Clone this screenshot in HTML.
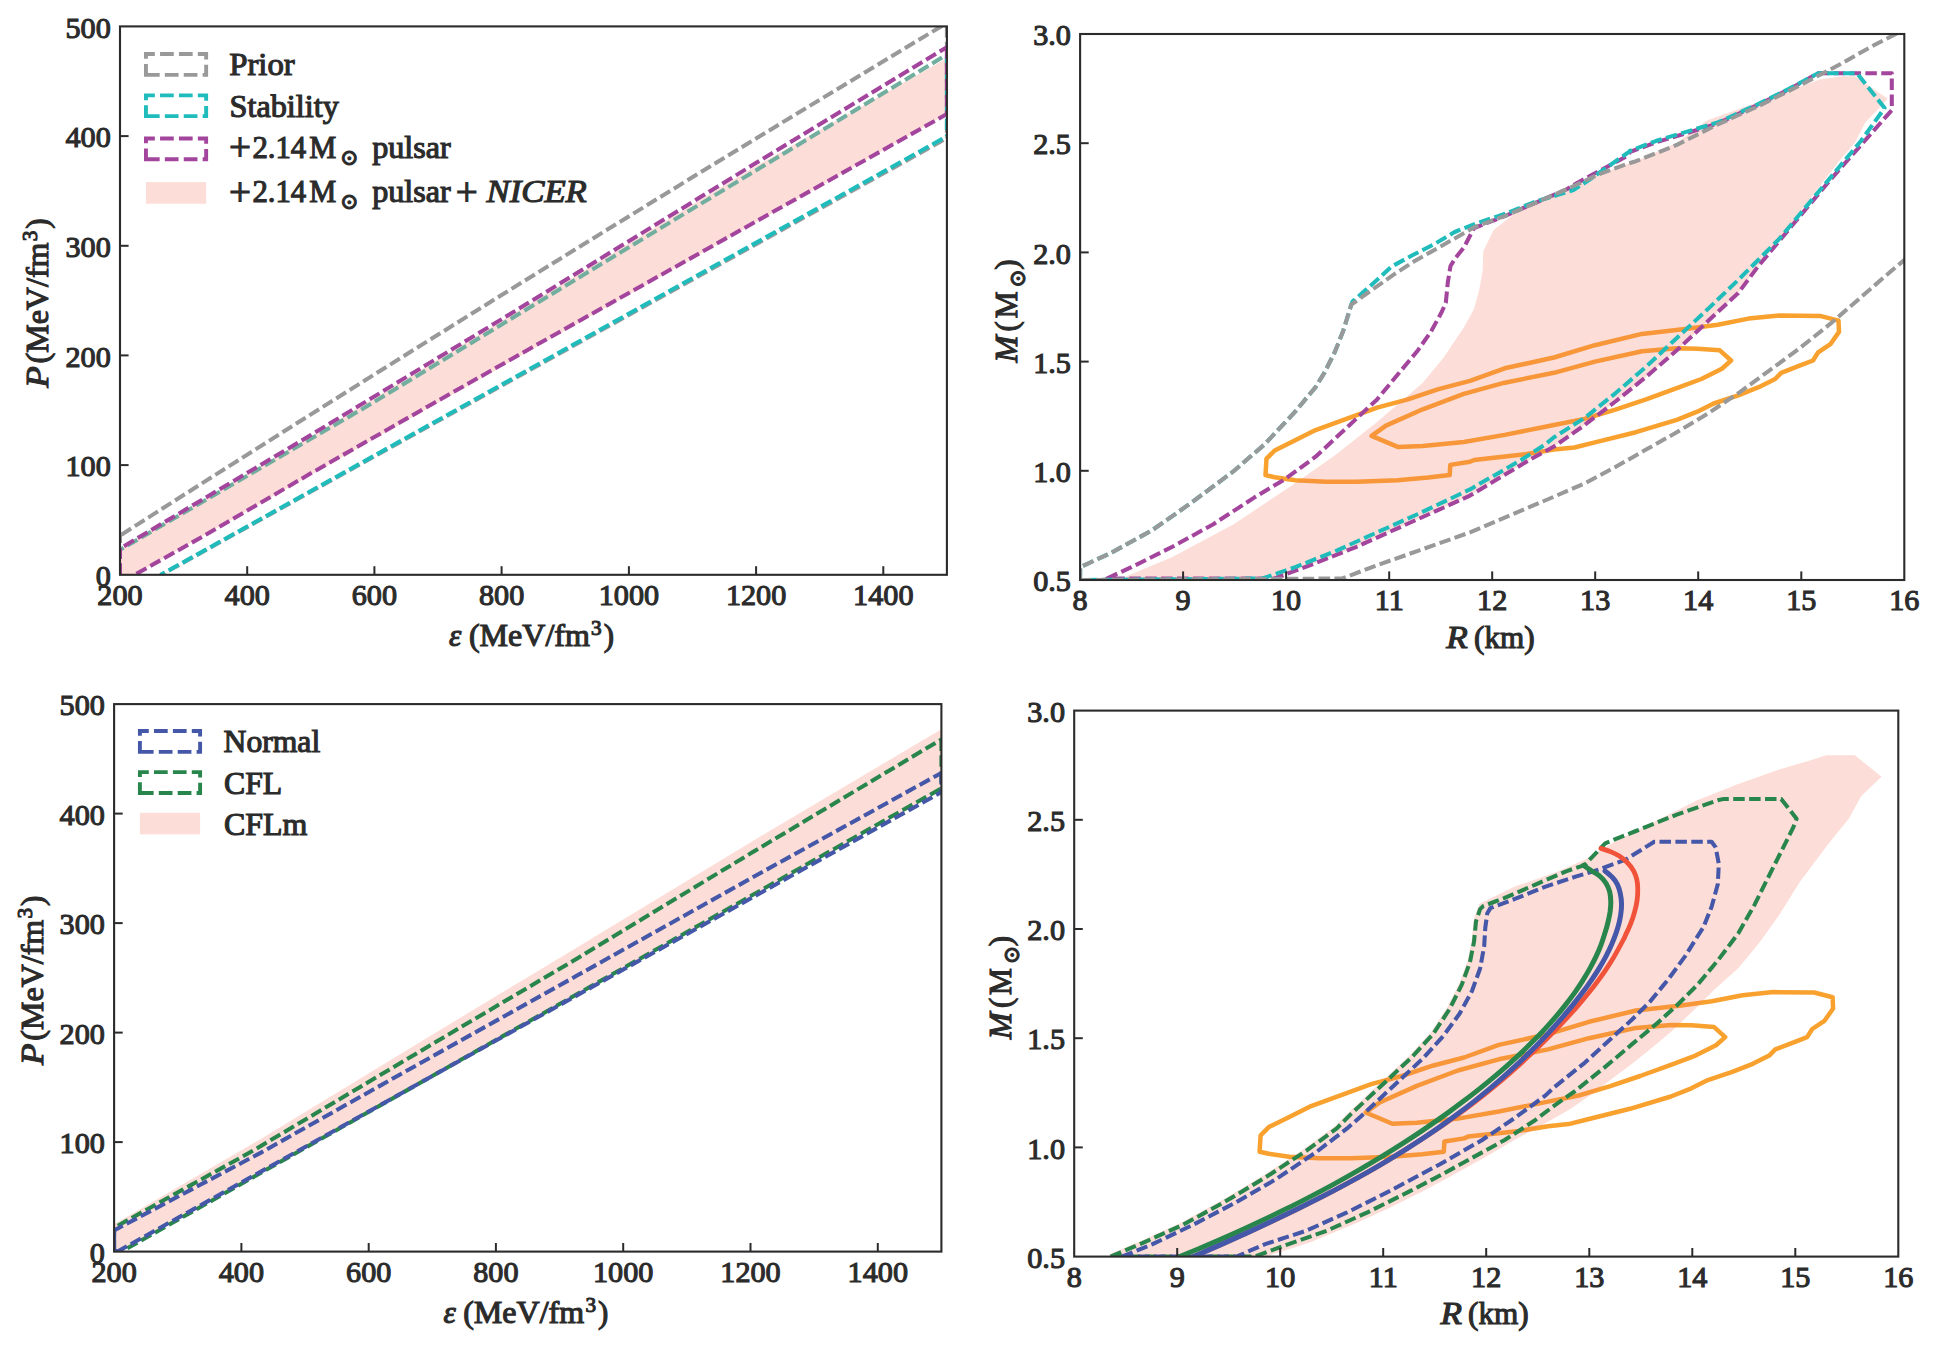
<!DOCTYPE html>
<html><head><meta charset="utf-8"><title>Figure</title>
<style>
html,body{margin:0;padding:0;background:#fff;}
svg{display:block;}
text{font-family:"Liberation Serif","DejaVu Serif",serif;fill:#2b2b2b;stroke:#2b2b2b;stroke-width:1.1px;}
</style></head><body>
<svg width="1954" height="1368" viewBox="0 0 1954 1368">
<rect width="1954" height="1368" fill="#ffffff"/>
<clipPath id="cTL"><rect x="120.0" y="26.4" width="826.9" height="548.4"/></clipPath>
<g clip-path="url(#cTL)">
<path d="M120.0 574.8 L120.0 549.6 L310.9 436.5 L511.4 315.0 L753.4 167.5 L946.9 58.2 L946.9 114.1 L134.6 574.8 Z" fill="#fdddd7" stroke="none"/>
<path d="M120.0 535.6 L200.0 484.6 L300.0 421.2 L400.0 358.4 L500.0 296.0 L600.0 234.1 L700.0 172.6 L800.0 111.7 L900.0 51.2 L950.0 21.1" fill="none" stroke="#999999" stroke-width="4.05" stroke-dasharray="11.5 4.4" stroke-dashoffset="14.21"/>
<path d="M946.9 25.9 L946.9 138.1" fill="none" stroke="#999999" stroke-width="4.05" stroke-dasharray="11.5 4.4" stroke-dashoffset="0.00"/>
<path d="M160.1 575.5 L946.9 138.1" fill="none" stroke="#999999" stroke-width="4.05" stroke-dasharray="11.5 4.4" stroke-dashoffset="5.79"/>
<path d="M120.0 549.8 L368.1 405.6 L515.5 316.1 L946.9 54.6" fill="none" stroke="#72ae9f" stroke-width="4.05" stroke-dasharray="11.5 4.4" stroke-dashoffset="7.29"/>
<path d="M946.9 54.9 L946.9 136.6" fill="none" stroke="#20bcbc" stroke-width="4.05" stroke-dasharray="11.5 4.4" stroke-dashoffset="0.00"/>
<path d="M160.7 574.8 L946.9 136.3" fill="none" stroke="#20bcbc" stroke-width="4.05" stroke-dasharray="11.5 4.4" stroke-dashoffset="6.87"/>
<path d="M120.0 548.6 L310.9 435.0 L511.4 313.3 L753.4 164.6 L946.9 47.2" fill="none" stroke="#a3459d" stroke-width="4.05" stroke-dasharray="11.5 4.4" stroke-dashoffset="11.26"/>
<path d="M946.9 47.2 L946.9 114.1" fill="none" stroke="#a3459d" stroke-width="4.05" stroke-dasharray="11.5 4.4" stroke-dashoffset="0.00"/>
<path d="M134.6 574.8 L201.9 537.0 L310.4 473.6 L433.6 403.2 L516.5 356.2 L946.9 114.1" fill="none" stroke="#a3459d" stroke-width="4.05" stroke-dasharray="11.5 4.4" stroke-dashoffset="13.82"/>
<path d="M120.0 574.8 L120.0 534.8" fill="none" stroke="#999999" stroke-width="4.05" stroke-dasharray="11.5 4.4" stroke-dashoffset="0.00"/>
<path d="M120.0 574.8 L120.0 547.9" fill="none" stroke="#a3459d" stroke-width="4.05" stroke-dasharray="11.5 4.4" stroke-dashoffset="0.00"/>
</g>
<text x="120.0" y="604.8" font-size="30.2" text-anchor="middle" >200</text>
<line x1="247.2" y1="574.8" x2="247.2" y2="566.2" stroke="#2b2b2b" stroke-width="2.0"/>
<text x="247.2" y="604.8" font-size="30.2" text-anchor="middle" >400</text>
<line x1="374.4" y1="574.8" x2="374.4" y2="566.2" stroke="#2b2b2b" stroke-width="2.0"/>
<text x="374.4" y="604.8" font-size="30.2" text-anchor="middle" >600</text>
<line x1="501.6" y1="574.8" x2="501.6" y2="566.2" stroke="#2b2b2b" stroke-width="2.0"/>
<text x="501.6" y="604.8" font-size="30.2" text-anchor="middle" >800</text>
<line x1="628.9" y1="574.8" x2="628.9" y2="566.2" stroke="#2b2b2b" stroke-width="2.0"/>
<text x="628.9" y="604.8" font-size="30.2" text-anchor="middle" >1000</text>
<line x1="756.1" y1="574.8" x2="756.1" y2="566.2" stroke="#2b2b2b" stroke-width="2.0"/>
<text x="756.1" y="604.8" font-size="30.2" text-anchor="middle" >1200</text>
<line x1="883.3" y1="574.8" x2="883.3" y2="566.2" stroke="#2b2b2b" stroke-width="2.0"/>
<text x="883.3" y="604.8" font-size="30.2" text-anchor="middle" >1400</text>
<text x="110.8" y="586.0" font-size="30.2" text-anchor="end" >0</text>
<line x1="120.0" y1="465.1" x2="128.6" y2="465.1" stroke="#2b2b2b" stroke-width="2.0"/>
<text x="110.8" y="476.3" font-size="30.2" text-anchor="end" >100</text>
<line x1="120.0" y1="355.4" x2="128.6" y2="355.4" stroke="#2b2b2b" stroke-width="2.0"/>
<text x="110.8" y="366.6" font-size="30.2" text-anchor="end" >200</text>
<line x1="120.0" y1="245.8" x2="128.6" y2="245.8" stroke="#2b2b2b" stroke-width="2.0"/>
<text x="110.8" y="257.0" font-size="30.2" text-anchor="end" >300</text>
<line x1="120.0" y1="136.1" x2="128.6" y2="136.1" stroke="#2b2b2b" stroke-width="2.0"/>
<text x="110.8" y="147.3" font-size="30.2" text-anchor="end" >400</text>
<text x="110.8" y="37.6" font-size="30.2" text-anchor="end" >500</text>
<rect x="120.0" y="26.4" width="826.9" height="548.4" fill="none" stroke="#2b2b2b" stroke-width="2.1"/>
<clipPath id="cBL"><rect x="114.1" y="704.1" width="827.3" height="547.5"/></clipPath>
<g clip-path="url(#cBL)">
<path d="M114.1 1251.6 L114.1 1224.2 L260.0 1139.5 L440.0 1030.0 L560.0 957.7 L754.5 840.0 L941.4 729.2 L941.4 791.0 L117.5 1251.6 Z" fill="#fdddd7" stroke="none"/>
<path d="M114.1 1227.7 L252.8 1150.8 L428.3 1046.4 L578.4 957.7 L752.4 852.3 L941.4 739.4" fill="none" stroke="#28864c" stroke-width="4.05" stroke-dasharray="11.5 4.4" stroke-dashoffset="11.70"/>
<path d="M941.4 739.4 L941.4 788.3" fill="none" stroke="#28864c" stroke-width="4.05" stroke-dasharray="11.5 4.4" stroke-dashoffset="0.00"/>
<path d="M121.5 1251.6 L941.4 788.3" fill="none" stroke="#28864c" stroke-width="4.05" stroke-dasharray="11.5 4.4" stroke-dashoffset="9.24"/>
<path d="M114.1 1251.6 L114.1 1227.7" fill="none" stroke="#28864c" stroke-width="4.05" stroke-dasharray="11.5 4.4" stroke-dashoffset="0.00"/>
<path d="M114.1 1230.4 L261.0 1152.6 L427.3 1059.2 L577.9 975.1 L755.5 875.8 L941.4 772.9" fill="none" stroke="#4457a8" stroke-width="4.05" stroke-dasharray="11.5 4.4" stroke-dashoffset="1.66"/>
<path d="M941.4 772.9 L941.4 792.1" fill="none" stroke="#4457a8" stroke-width="4.05" stroke-dasharray="11.5 4.4" stroke-dashoffset="0.00"/>
<path d="M117.5 1251.6 L941.4 792.1" fill="none" stroke="#4457a8" stroke-width="4.05" stroke-dasharray="11.5 4.4" stroke-dashoffset="0.70"/>
<path d="M114.1 1251.6 L114.1 1230.4" fill="none" stroke="#4457a8" stroke-width="4.05" stroke-dasharray="40.0 0.0" stroke-dashoffset="0.00"/>
<path d="M114.1 1251.0 L122.0 1251.0" fill="none" stroke="#4457a8" stroke-width="4.05" stroke-dasharray="40.0 0.0" stroke-dashoffset="0.00"/>
</g>
<text x="114.1" y="1281.6" font-size="30.2" text-anchor="middle" >200</text>
<line x1="241.4" y1="1251.6" x2="241.4" y2="1243.0" stroke="#2b2b2b" stroke-width="2.0"/>
<text x="241.4" y="1281.6" font-size="30.2" text-anchor="middle" >400</text>
<line x1="368.7" y1="1251.6" x2="368.7" y2="1243.0" stroke="#2b2b2b" stroke-width="2.0"/>
<text x="368.7" y="1281.6" font-size="30.2" text-anchor="middle" >600</text>
<line x1="495.9" y1="1251.6" x2="495.9" y2="1243.0" stroke="#2b2b2b" stroke-width="2.0"/>
<text x="495.9" y="1281.6" font-size="30.2" text-anchor="middle" >800</text>
<line x1="623.2" y1="1251.6" x2="623.2" y2="1243.0" stroke="#2b2b2b" stroke-width="2.0"/>
<text x="623.2" y="1281.6" font-size="30.2" text-anchor="middle" >1000</text>
<line x1="750.5" y1="1251.6" x2="750.5" y2="1243.0" stroke="#2b2b2b" stroke-width="2.0"/>
<text x="750.5" y="1281.6" font-size="30.2" text-anchor="middle" >1200</text>
<line x1="877.8" y1="1251.6" x2="877.8" y2="1243.0" stroke="#2b2b2b" stroke-width="2.0"/>
<text x="877.8" y="1281.6" font-size="30.2" text-anchor="middle" >1400</text>
<text x="104.9" y="1262.8" font-size="30.2" text-anchor="end" >0</text>
<line x1="114.1" y1="1142.1" x2="122.7" y2="1142.1" stroke="#2b2b2b" stroke-width="2.0"/>
<text x="104.9" y="1153.3" font-size="30.2" text-anchor="end" >100</text>
<line x1="114.1" y1="1032.6" x2="122.7" y2="1032.6" stroke="#2b2b2b" stroke-width="2.0"/>
<text x="104.9" y="1043.8" font-size="30.2" text-anchor="end" >200</text>
<line x1="114.1" y1="923.1" x2="122.7" y2="923.1" stroke="#2b2b2b" stroke-width="2.0"/>
<text x="104.9" y="934.3" font-size="30.2" text-anchor="end" >300</text>
<line x1="114.1" y1="813.6" x2="122.7" y2="813.6" stroke="#2b2b2b" stroke-width="2.0"/>
<text x="104.9" y="824.8" font-size="30.2" text-anchor="end" >400</text>
<text x="104.9" y="715.3" font-size="30.2" text-anchor="end" >500</text>
<rect x="114.1" y="704.1" width="827.3" height="547.5" fill="none" stroke="#2b2b2b" stroke-width="2.1"/>
<clipPath id="cTR"><rect x="1080.1" y="34.0" width="824.2" height="546.0"/></clipPath>
<g clip-path="url(#cTR)">
<path d="M1265.5 475.1 L1266.5 458.7 L1274.7 450.5 L1295.2 440.3 L1315.6 430.1 L1346.4 418.8 L1377.1 407.6 L1407.8 399.4 L1438.5 389.1 L1470.0 380.9 L1504.7 368.3 L1554.0 357.5 L1594.9 345.2 L1642.0 333.9 L1687.1 328.8 L1717.8 324.7 L1748.5 318.6 L1779.2 315.5 L1820.1 315.9 L1838.5 320.6 L1839.0 331.9 L1830.4 344.2 L1818.1 352.4 L1813.0 360.5 L1799.6 365.7 L1781.2 372.8 L1775.1 379.0 L1758.7 387.2 L1738.2 395.3 L1713.7 403.5 L1697.3 411.7 L1676.8 419.9 L1635.9 432.2 L1594.9 442.4 L1574.5 447.5 L1554.0 449.6 L1525.2 454.3 L1474.0 460.0 L1470.0 461.8 L1450.3 464.9 L1449.7 475.1 L1428.2 477.6 L1397.5 480.2 L1356.6 481.7 L1325.9 481.7 L1295.2 480.2 L1274.7 477.2 Z" fill="none" stroke="#f9a12e" stroke-width="4.50" stroke-linejoin="round" stroke-linecap="round" />
<path d="M1371.6 435.9 L1386.0 425.6 L1422.8 409.3 L1463.8 393.9 L1504.7 382.7 L1554.0 372.8 L1594.9 361.6 L1642.0 351.3 L1676.8 348.3 L1697.3 348.7 L1719.8 350.3 L1731.1 360.5 L1721.9 368.7 L1701.4 379.0 L1676.8 388.2 L1646.1 399.4 L1615.4 409.7 L1584.7 418.9 L1554.0 425.0 L1504.7 434.9 L1463.8 442.0 L1422.8 446.1 L1398.3 447.1 Z" fill="none" stroke="#f9a12e" stroke-width="4.50" stroke-linejoin="round" stroke-linecap="round" />
<path d="M1121.2 578.5 L1172.4 557.0 L1233.8 524.2 L1295.2 483.3 L1336.1 454.6 L1377.1 421.9 L1422.8 382.7 L1443.3 358.1 L1463.8 327.4 L1474.0 309.0 L1479.1 290.5 L1482.8 270.1 L1483.2 251.6 L1493.6 229.9 L1516.1 212.5 L1536.6 202.3 L1567.3 189.0 L1598.0 174.6 L1628.7 163.4 L1635.9 161.2 L1676.8 142.8 L1707.5 120.3 L1758.7 101.9 L1820.1 79.4 L1840.6 76.3 L1854.9 76.3 L1887.7 98.8 L1873.3 114.2 L1865.2 122.4 L1854.9 142.8 L1840.6 159.2 L1820.1 185.8 L1799.6 212.4 L1779.2 241.1 L1758.7 265.6 L1738.2 293.0 L1707.5 321.6 L1676.8 350.3 L1646.1 376.9 L1615.4 401.5 L1584.7 425.0 L1554.0 446.5 L1529.3 460.0 L1470.0 495.6 L1438.5 509.9 L1397.5 528.3 L1356.6 546.8 L1315.6 563.1 L1274.7 578.5 Z" fill="rgba(247,119,95,0.25)" stroke="none"/>
<path d="M1106.8 578.5 L1131.4 567.2 L1172.4 546.8 L1213.3 524.2 L1254.2 497.6 L1284.9 479.2 L1315.6 456.7 L1346.4 428.0 L1377.1 399.4 L1397.5 374.8 L1418.0 350.2 L1431.0 331.5 L1441.2 313.1 L1445.8 302.8 L1447.8 282.4 L1450.5 266.0 L1455.6 257.8 L1463.8 247.6 L1474.0 228.1 L1505.9 215.6 L1536.6 202.3 L1567.3 189.0 L1577.5 182.8 L1598.0 171.6 L1628.7 155.2 L1629.7 152.0 L1656.4 142.2 L1687.1 133.0 L1717.8 123.4 L1758.7 104.5 L1789.4 89.2 L1818.1 73.2 L1891.8 73.2 L1891.8 110.1 L1861.1 144.9 L1830.4 179.7 L1799.6 216.5 L1779.2 241.1 L1758.7 265.6 L1738.2 293.0 L1707.5 321.6 L1676.8 350.3 L1646.1 376.9 L1615.4 401.5 L1584.7 425.0 L1554.0 446.5 L1529.3 460.0 L1470.0 495.6 L1438.5 509.9 L1397.5 528.3 L1356.6 546.8 L1315.6 563.1 L1274.7 578.5 Z" fill="none" stroke="#a3459d" stroke-width="4.05" stroke-dasharray="11.5 4.4" stroke-linejoin="round" />
<path d="M1080.1 580.0 L1080.2 567.2 L1110.9 552.9 L1151.9 530.4 L1192.8 501.7 L1233.8 471.0 L1264.5 444.4 L1295.2 411.6 L1315.6 387.1 L1324.6 372.4 L1334.8 352.0 L1343.0 331.5 L1348.1 315.1 L1351.3 304.6 L1352.4 301.6 L1376.9 280.1 L1391.2 266.8 L1413.8 254.5 L1434.2 244.2 L1454.7 232.0 L1475.2 223.8 L1505.9 213.5 L1536.6 201.2 L1557.1 195.1 L1573.4 190.0 L1587.8 180.8 L1608.2 166.4 L1628.7 152.1 L1629.7 151.0 L1656.4 140.8 L1687.1 131.6 L1717.8 122.4 L1758.7 103.9 L1789.4 88.6 L1818.1 73.2 L1857.0 73.2 L1884.6 108.0 L1861.1 140.8 L1830.4 177.6 L1799.6 214.5 L1779.2 239.0 L1758.7 259.5 L1738.2 280.0 L1707.5 309.4 L1676.8 338.0 L1646.1 366.7 L1615.4 393.3 L1584.7 417.9 L1554.0 437.3 L1545.6 444.1 L1521.1 460.0 L1470.0 489.4 L1418.0 514.0 L1377.1 532.4 L1336.1 550.8 L1295.2 567.2 L1262.4 578.5 Z" fill="none" stroke="#20bcbc" stroke-width="4.05" stroke-dasharray="11.5 4.4" stroke-linejoin="round" />
<path d="M1080.1 580.0 L1080.2 567.2 L1110.9 552.9 L1151.9 530.4 L1192.8 501.7 L1233.8 471.0 L1264.5 444.4 L1295.2 411.6 L1315.6 387.1 L1324.6 372.4 L1334.8 352.0 L1343.0 331.5 L1348.1 315.1 L1351.3 304.6 L1372.8 289.3 L1393.3 274.9 L1413.8 261.6 L1444.5 244.2 L1475.2 226.8 L1505.9 215.6 L1536.6 202.3 L1567.3 189.0 L1598.0 174.6 L1628.7 163.4 L1635.9 161.2 L1676.8 144.9 L1717.8 124.4 L1758.7 106.0 L1799.6 85.5 L1840.6 64.0 L1871.3 46.6 L1900.0 31.9 L1907.3 32.0" fill="none" stroke="#999999" stroke-width="4.05" stroke-dasharray="11.5 4.4" stroke-linejoin="round" />
<path d="M1080.1 580.0 L1342.3 578.5 L1377.1 565.2 L1418.0 550.8 L1470.0 532.4 L1554.0 496.7 L1584.7 483.4 L1615.4 467.0 L1646.1 449.6 L1676.8 432.2 L1707.5 413.8 L1738.2 393.3 L1768.9 370.8 L1799.6 348.3 L1830.4 323.7 L1861.1 297.1 L1891.8 270.5 L1906.1 258.6" fill="none" stroke="#999999" stroke-width="4.05" stroke-dasharray="11.5 4.4" stroke-linejoin="round" />
</g>
<text x="1080.1" y="610.0" font-size="30.2" text-anchor="middle" >8</text>
<line x1="1183.1" y1="580.0" x2="1183.1" y2="571.4" stroke="#2b2b2b" stroke-width="2.0"/>
<text x="1183.1" y="610.0" font-size="30.2" text-anchor="middle" >9</text>
<line x1="1286.1" y1="580.0" x2="1286.1" y2="571.4" stroke="#2b2b2b" stroke-width="2.0"/>
<text x="1286.1" y="610.0" font-size="30.2" text-anchor="middle" >10</text>
<line x1="1389.2" y1="580.0" x2="1389.2" y2="571.4" stroke="#2b2b2b" stroke-width="2.0"/>
<text x="1389.2" y="610.0" font-size="30.2" text-anchor="middle" >11</text>
<line x1="1492.2" y1="580.0" x2="1492.2" y2="571.4" stroke="#2b2b2b" stroke-width="2.0"/>
<text x="1492.2" y="610.0" font-size="30.2" text-anchor="middle" >12</text>
<line x1="1595.2" y1="580.0" x2="1595.2" y2="571.4" stroke="#2b2b2b" stroke-width="2.0"/>
<text x="1595.2" y="610.0" font-size="30.2" text-anchor="middle" >13</text>
<line x1="1698.2" y1="580.0" x2="1698.2" y2="571.4" stroke="#2b2b2b" stroke-width="2.0"/>
<text x="1698.2" y="610.0" font-size="30.2" text-anchor="middle" >14</text>
<line x1="1801.3" y1="580.0" x2="1801.3" y2="571.4" stroke="#2b2b2b" stroke-width="2.0"/>
<text x="1801.3" y="610.0" font-size="30.2" text-anchor="middle" >15</text>
<text x="1904.3" y="610.0" font-size="30.2" text-anchor="middle" >16</text>
<text x="1070.9" y="591.2" font-size="30.2" text-anchor="end" >0.5</text>
<line x1="1080.1" y1="470.8" x2="1088.7" y2="470.8" stroke="#2b2b2b" stroke-width="2.0"/>
<text x="1070.9" y="482.0" font-size="30.2" text-anchor="end" >1.0</text>
<line x1="1080.1" y1="361.6" x2="1088.7" y2="361.6" stroke="#2b2b2b" stroke-width="2.0"/>
<text x="1070.9" y="372.8" font-size="30.2" text-anchor="end" >1.5</text>
<line x1="1080.1" y1="252.4" x2="1088.7" y2="252.4" stroke="#2b2b2b" stroke-width="2.0"/>
<text x="1070.9" y="263.6" font-size="30.2" text-anchor="end" >2.0</text>
<line x1="1080.1" y1="143.2" x2="1088.7" y2="143.2" stroke="#2b2b2b" stroke-width="2.0"/>
<text x="1070.9" y="154.4" font-size="30.2" text-anchor="end" >2.5</text>
<text x="1070.9" y="45.2" font-size="30.2" text-anchor="end" >3.0</text>
<rect x="1080.1" y="34.0" width="824.2" height="546.0" fill="none" stroke="#2b2b2b" stroke-width="2.1"/>
<clipPath id="cBR"><rect x="1074.2" y="710.6" width="824.1" height="546.0"/></clipPath>
<g clip-path="url(#cBR)">
<path d="M1259.6 1151.7 L1260.6 1135.3 L1268.8 1127.1 L1289.3 1116.9 L1309.7 1106.7 L1340.5 1095.4 L1371.2 1084.2 L1401.9 1076.0 L1432.6 1065.7 L1464.1 1057.5 L1498.8 1044.9 L1548.1 1034.1 L1589.0 1021.8 L1636.1 1010.5 L1681.2 1005.4 L1711.9 1001.3 L1742.6 995.2 L1773.3 992.1 L1814.2 992.5 L1832.6 997.2 L1833.1 1008.5 L1824.5 1020.8 L1812.2 1029.0 L1807.1 1037.1 L1793.7 1042.3 L1775.3 1049.4 L1769.2 1055.6 L1752.8 1063.8 L1732.3 1071.9 L1707.8 1080.1 L1691.4 1088.3 L1670.9 1096.5 L1630.0 1108.8 L1589.0 1119.0 L1568.6 1124.1 L1548.1 1126.2 L1519.3 1130.9 L1468.1 1136.6 L1464.1 1138.4 L1444.4 1141.5 L1443.8 1151.7 L1422.3 1154.2 L1391.6 1156.8 L1350.7 1158.3 L1320.0 1158.3 L1289.3 1156.8 L1268.8 1153.8 Z" fill="none" stroke="#f9a12e" stroke-width="4.50" stroke-linejoin="round" stroke-linecap="round" />
<path d="M1365.7 1112.5 L1380.1 1102.2 L1416.9 1085.9 L1457.9 1070.5 L1498.8 1059.3 L1548.1 1049.4 L1589.0 1038.2 L1636.1 1027.9 L1670.9 1024.9 L1691.4 1025.3 L1713.9 1026.9 L1725.2 1037.1 L1716.0 1045.3 L1695.5 1055.6 L1670.9 1064.8 L1640.2 1076.0 L1609.5 1086.3 L1578.8 1095.5 L1548.1 1101.6 L1498.8 1111.5 L1457.9 1118.6 L1416.9 1122.7 L1392.4 1123.7 Z" fill="none" stroke="#f9a12e" stroke-width="4.50" stroke-linejoin="round" stroke-linecap="round" />
<path d="M1108.4 1254.8 L1140.2 1241.3 L1181.1 1222.8 L1222.0 1200.3 L1263.0 1175.8 L1303.9 1149.1 L1334.6 1126.6 L1349.0 1112.0 L1379.7 1083.4 L1410.4 1054.7 L1430.9 1032.2 L1447.2 1007.6 L1459.5 983.1 L1467.7 960.6 L1471.8 940.1 L1473.8 919.6 L1477.9 907.3 L1480.0 903.6 L1514.9 886.6 L1555.9 872.3 L1584.7 859.7 L1615.4 841.2 L1656.4 820.8 L1697.3 800.3 L1738.2 783.9 L1779.2 769.6 L1809.9 760.4 L1826.3 755.3 L1854.9 755.3 L1881.5 776.8 L1861.1 796.2 L1848.8 818.7 L1830.4 841.2 L1799.6 882.2 L1779.2 914.9 L1758.7 943.6 L1738.2 968.2 L1714.0 990.0 L1693.5 1010.5 L1673.1 1029.9 L1652.6 1047.3 L1632.1 1063.7 L1611.6 1079.0 L1591.2 1094.4 L1570.7 1108.7 L1552.0 1119.5 L1513.5 1140.5 L1482.8 1158.5 L1452.1 1175.5 L1421.4 1191.9 L1390.7 1207.2 L1360.0 1221.6 L1310.0 1242.4 L1265.3 1256.7 Z" fill="rgba(247,119,95,0.25)" stroke="none"/>
<path d="M1110.6 1256.6 L1142.4 1243.1 L1183.3 1224.6 L1224.2 1202.1 L1265.2 1177.6 L1306.1 1150.9 L1336.8 1128.4 L1351.2 1113.8 L1381.9 1085.2 L1412.6 1056.5 L1433.1 1034.0 L1449.4 1009.4 L1461.7 984.9 L1469.9 962.4 L1474.0 941.9 L1476.0 921.4 L1480.1 909.1 L1483.2 906.1 L1504.7 897.9 L1535.4 884.6 L1566.1 871.3 L1584.5 865.1 L1605.2 843.3 L1635.9 831.0 L1676.8 814.6 L1717.8 800.3 L1723.9 798.9 L1781.2 798.9 L1796.6 818.7 L1793.5 826.9 L1783.3 847.4 L1768.9 876.0 L1754.6 904.7 L1738.2 933.4 L1717.8 960.5 L1697.3 985.0 L1676.8 1005.5 L1656.4 1023.9 L1631.8 1044.4 L1605.2 1066.9 L1574.5 1091.5 L1554.0 1105.8 L1535.4 1120.0 L1504.7 1140.0 L1440.0 1175.5 L1408.5 1191.9 L1367.5 1212.4 L1326.6 1230.8 L1285.6 1245.1 L1254.9 1256.6 Z" fill="none" stroke="#28864c" stroke-width="4.05" stroke-dasharray="11.5 4.4" stroke-linejoin="round" />
<path d="M1121.9 1256.6 L1152.6 1244.1 L1193.5 1224.6 L1234.5 1203.1 L1275.4 1179.6 L1316.4 1152.0 L1347.1 1128.4 L1361.4 1115.9 L1392.1 1087.2 L1422.8 1058.6 L1443.3 1036.0 L1459.7 1013.5 L1472.0 991.0 L1480.1 968.5 L1484.2 946.0 L1485.3 927.6 L1487.3 913.2 L1490.4 908.1 L1514.9 898.9 L1545.6 886.6 L1576.4 876.4 L1596.8 870.2 L1625.6 859.7 L1654.3 841.7 L1711.6 841.7 L1715.7 847.4 L1718.8 863.8 L1717.8 884.2 L1711.6 906.8 L1703.4 927.2 L1695.2 940.0 L1685.0 956.4 L1668.6 978.9 L1650.2 1001.4 L1631.8 1019.8 L1609.3 1040.3 L1584.7 1062.8 L1554.0 1087.4 L1545.6 1095.4 L1514.9 1117.9 L1482.2 1140.0 L1440.0 1164.2 L1418.7 1175.5 L1388.0 1191.9 L1347.1 1212.4 L1306.1 1230.8 L1265.2 1244.1 L1236.5 1256.6 Z" fill="none" stroke="#4457a8" stroke-width="4.05" stroke-dasharray="11.5 4.4" stroke-linejoin="round" />
<path d="M1193.6 1256.6 C1198.2 1254.6 1212.0 1248.6 1221.0 1244.6 C1230.0 1240.6 1238.8 1236.6 1247.6 1232.6 C1256.3 1228.6 1265.0 1224.6 1273.5 1220.6 C1282.0 1216.6 1290.3 1212.6 1298.4 1208.6 C1306.5 1204.6 1314.5 1200.6 1322.3 1196.6 C1330.1 1192.6 1337.7 1188.6 1345.1 1184.6 C1352.5 1180.6 1359.8 1176.6 1366.9 1172.6 C1374.0 1168.6 1380.8 1164.6 1387.5 1160.6 C1394.2 1156.6 1400.6 1152.6 1407.0 1148.6 C1413.4 1144.6 1419.8 1140.6 1425.9 1136.6 C1432.0 1132.6 1438.0 1128.6 1443.8 1124.6 C1449.5 1120.6 1455.1 1116.6 1460.6 1112.6 C1466.1 1108.6 1471.4 1104.6 1476.6 1100.6 C1481.7 1096.6 1486.7 1092.6 1491.6 1088.6 C1496.5 1084.6 1501.3 1080.6 1505.9 1076.6 C1510.5 1072.6 1515.0 1068.6 1519.5 1064.6 C1523.9 1060.6 1528.2 1056.6 1532.5 1052.6 C1536.8 1048.6 1540.9 1044.6 1545.0 1040.6 C1549.0 1036.6 1552.9 1032.6 1556.8 1028.6 C1560.7 1024.6 1564.4 1020.6 1568.1 1016.6 C1571.8 1012.6 1575.4 1008.6 1578.8 1004.6 C1582.3 1000.6 1585.7 996.6 1588.9 992.6 C1592.1 988.6 1595.2 984.6 1598.1 980.6 C1601.1 976.6 1603.9 972.6 1606.6 968.6 C1609.2 964.6 1611.3 961.4 1614.1 956.6 C1616.9 951.8 1621.3 943.6 1623.2 940.0 C1625.1 936.5 1624.2 938.1 1625.4 935.4 C1626.7 932.8 1629.0 928.1 1630.5 924.2 C1632.1 920.2 1633.5 916.0 1634.6 911.9 C1635.7 907.8 1636.7 903.7 1637.2 899.6 C1637.7 895.5 1637.8 890.7 1637.7 887.3 C1637.6 883.9 1637.4 881.9 1636.7 879.1 C1636.0 876.4 1635.1 873.7 1633.6 870.9 C1632.1 868.2 1629.9 865.2 1627.5 862.8 C1625.1 860.3 1622.2 858.0 1619.3 856.1 C1616.4 854.2 1613.1 852.8 1610.1 851.5 C1607.0 850.2 1602.4 848.9 1600.9 848.4" fill="none" stroke="#f0533a" stroke-width="4.80" stroke-linejoin="round" stroke-linecap="round" />
<path d="M1179.7 1256.6 C1184.5 1254.6 1199.1 1248.6 1208.5 1244.6 C1217.9 1240.6 1227.1 1236.6 1236.0 1232.6 C1244.9 1228.6 1253.5 1224.6 1262.0 1220.6 C1270.5 1216.6 1278.7 1212.6 1286.8 1208.6 C1294.9 1204.6 1302.7 1200.6 1310.4 1196.6 C1318.1 1192.6 1325.7 1188.6 1333.0 1184.6 C1340.3 1180.6 1347.4 1176.6 1354.4 1172.6 C1361.4 1168.6 1368.2 1164.6 1374.9 1160.6 C1381.6 1156.6 1388.1 1152.6 1394.5 1148.6 C1400.9 1144.6 1407.1 1140.6 1413.2 1136.6 C1419.3 1132.6 1425.2 1128.6 1431.0 1124.6 C1436.8 1120.6 1442.5 1116.6 1448.1 1112.6 C1453.6 1108.6 1459.0 1104.6 1464.3 1100.6 C1469.6 1096.6 1474.7 1092.6 1479.7 1088.6 C1484.7 1084.6 1489.6 1080.6 1494.4 1076.6 C1499.2 1072.6 1503.8 1068.6 1508.3 1064.6 C1512.8 1060.6 1517.2 1056.6 1521.4 1052.6 C1525.6 1048.6 1529.7 1044.6 1533.7 1040.6 C1537.7 1036.6 1541.5 1032.6 1545.2 1028.6 C1548.9 1024.6 1552.5 1020.6 1555.9 1016.6 C1559.3 1012.6 1562.6 1008.6 1565.7 1004.6 C1568.8 1000.6 1571.9 996.6 1574.7 992.6 C1577.5 988.6 1580.2 984.6 1582.7 980.6 C1585.2 976.6 1587.6 972.6 1589.8 968.6 C1592.0 964.6 1594.1 960.6 1596.0 956.6 C1597.9 952.6 1599.6 948.6 1601.1 944.6 C1602.6 940.6 1603.9 936.3 1605.1 932.6 C1606.3 928.9 1607.2 925.6 1608.0 922.1 C1608.9 918.7 1609.6 915.3 1610.1 911.9 C1610.5 908.5 1610.9 905.1 1610.8 901.6 C1610.7 898.2 1610.4 894.5 1609.6 891.4 C1608.8 888.3 1607.6 885.8 1606.0 883.2 C1604.4 880.7 1602.2 878.1 1599.8 876.1 C1597.4 874.0 1594.4 872.7 1591.6 870.9 C1588.9 869.2 1584.8 866.3 1583.5 865.3" fill="none" stroke="#28864c" stroke-width="5.00" stroke-linejoin="round" stroke-linecap="round" />
<path d="M1193.6 1256.6 C1198.2 1254.6 1212.0 1248.6 1221.0 1244.6 C1230.0 1240.6 1238.8 1236.6 1247.6 1232.6 C1256.3 1228.6 1265.0 1224.6 1273.5 1220.6 C1282.0 1216.6 1290.3 1212.6 1298.4 1208.6 C1306.5 1204.6 1314.5 1200.6 1322.3 1196.6 C1330.1 1192.6 1337.7 1188.6 1345.1 1184.6 C1352.5 1180.6 1359.8 1176.6 1366.9 1172.6 C1374.0 1168.6 1380.8 1164.6 1387.5 1160.6 C1394.2 1156.6 1400.7 1152.6 1407.0 1148.6 C1413.3 1144.6 1419.5 1140.6 1425.5 1136.6 C1431.5 1132.6 1437.3 1128.6 1443.0 1124.6 C1448.7 1120.6 1454.2 1116.6 1459.5 1112.6 C1464.8 1108.6 1470.0 1104.6 1475.1 1100.6 C1480.1 1096.6 1485.0 1092.6 1489.8 1088.6 C1494.6 1084.6 1499.2 1080.6 1503.7 1076.6 C1508.2 1072.6 1512.6 1068.6 1516.9 1064.6 C1521.2 1060.6 1525.3 1056.6 1529.4 1052.6 C1533.5 1048.6 1537.5 1044.6 1541.3 1040.6 C1545.1 1036.6 1548.9 1032.6 1552.5 1028.6 C1556.1 1024.6 1559.7 1020.6 1563.1 1016.6 C1566.5 1012.6 1569.9 1008.6 1573.1 1004.6 C1576.3 1000.6 1579.5 996.6 1582.5 992.6 C1585.5 988.6 1588.4 984.6 1591.1 980.6 C1593.8 976.6 1596.5 972.6 1598.9 968.6 C1601.4 964.6 1603.7 960.6 1605.8 956.6 C1607.9 952.6 1609.9 948.6 1611.6 944.6 C1613.3 940.6 1615.0 936.0 1616.2 932.6 C1617.4 929.2 1618.0 927.3 1618.8 924.2 C1619.5 921.1 1620.4 917.3 1620.8 913.9 C1621.3 910.5 1621.6 907.1 1621.5 903.7 C1621.5 900.3 1621.0 896.7 1620.3 893.5 C1619.6 890.2 1618.6 887.0 1617.2 884.2 C1615.9 881.5 1614.2 879.3 1612.1 877.1 C1610.1 874.9 1606.1 872.0 1605.0 870.9" fill="none" stroke="#4457a8" stroke-width="5.00" stroke-linejoin="round" stroke-linecap="round" />
</g>
<text x="1074.2" y="1286.6" font-size="30.2" text-anchor="middle" >8</text>
<line x1="1177.2" y1="1256.6" x2="1177.2" y2="1248.0" stroke="#2b2b2b" stroke-width="2.0"/>
<text x="1177.2" y="1286.6" font-size="30.2" text-anchor="middle" >9</text>
<line x1="1280.2" y1="1256.6" x2="1280.2" y2="1248.0" stroke="#2b2b2b" stroke-width="2.0"/>
<text x="1280.2" y="1286.6" font-size="30.2" text-anchor="middle" >10</text>
<line x1="1383.2" y1="1256.6" x2="1383.2" y2="1248.0" stroke="#2b2b2b" stroke-width="2.0"/>
<text x="1383.2" y="1286.6" font-size="30.2" text-anchor="middle" >11</text>
<line x1="1486.2" y1="1256.6" x2="1486.2" y2="1248.0" stroke="#2b2b2b" stroke-width="2.0"/>
<text x="1486.2" y="1286.6" font-size="30.2" text-anchor="middle" >12</text>
<line x1="1589.3" y1="1256.6" x2="1589.3" y2="1248.0" stroke="#2b2b2b" stroke-width="2.0"/>
<text x="1589.3" y="1286.6" font-size="30.2" text-anchor="middle" >13</text>
<line x1="1692.3" y1="1256.6" x2="1692.3" y2="1248.0" stroke="#2b2b2b" stroke-width="2.0"/>
<text x="1692.3" y="1286.6" font-size="30.2" text-anchor="middle" >14</text>
<line x1="1795.3" y1="1256.6" x2="1795.3" y2="1248.0" stroke="#2b2b2b" stroke-width="2.0"/>
<text x="1795.3" y="1286.6" font-size="30.2" text-anchor="middle" >15</text>
<text x="1898.3" y="1286.6" font-size="30.2" text-anchor="middle" >16</text>
<text x="1065.0" y="1267.8" font-size="30.2" text-anchor="end" >0.5</text>
<line x1="1074.2" y1="1147.4" x2="1082.8" y2="1147.4" stroke="#2b2b2b" stroke-width="2.0"/>
<text x="1065.0" y="1158.6" font-size="30.2" text-anchor="end" >1.0</text>
<line x1="1074.2" y1="1038.2" x2="1082.8" y2="1038.2" stroke="#2b2b2b" stroke-width="2.0"/>
<text x="1065.0" y="1049.4" font-size="30.2" text-anchor="end" >1.5</text>
<line x1="1074.2" y1="929.0" x2="1082.8" y2="929.0" stroke="#2b2b2b" stroke-width="2.0"/>
<text x="1065.0" y="940.2" font-size="30.2" text-anchor="end" >2.0</text>
<line x1="1074.2" y1="819.8" x2="1082.8" y2="819.8" stroke="#2b2b2b" stroke-width="2.0"/>
<text x="1065.0" y="831.0" font-size="30.2" text-anchor="end" >2.5</text>
<text x="1065.0" y="721.8" font-size="30.2" text-anchor="end" >3.0</text>
<rect x="1074.2" y="710.6" width="824.1" height="546.0" fill="none" stroke="#2b2b2b" stroke-width="2.1"/>
<text x="449.1" y="645.9" font-size="31.0" text-anchor="start" font-style="italic" textLength="12.2" lengthAdjust="spacingAndGlyphs">ε</text>
<text x="468.9" y="645.9" font-size="31.0" text-anchor="start" textLength="121.0" lengthAdjust="spacingAndGlyphs">(MeV/fm</text>
<text x="591.1" y="634.9" font-size="21.6" text-anchor="start" textLength="10.6" lengthAdjust="spacingAndGlyphs">3</text>
<text x="603.7" y="645.9" font-size="31.0" text-anchor="start" textLength="10.3" lengthAdjust="spacingAndGlyphs">)</text>
<g transform="translate(48.4 387.2) rotate(-90)">
<text x="-0.5" y="0.0" font-size="31.0" text-anchor="start" font-style="italic" textLength="21.5" lengthAdjust="spacingAndGlyphs">P</text>
<text x="23.7" y="0.0" font-size="31.0" text-anchor="start" textLength="121.0" lengthAdjust="spacingAndGlyphs">(MeV/fm</text>
<text x="145.9" y="-11.0" font-size="21.6" text-anchor="start" textLength="10.6" lengthAdjust="spacingAndGlyphs">3</text>
<text x="158.5" y="0.0" font-size="31.0" text-anchor="start" textLength="10.3" lengthAdjust="spacingAndGlyphs">)</text>
</g>
<text x="443.4" y="1322.7" font-size="31.0" text-anchor="start" font-style="italic" textLength="12.2" lengthAdjust="spacingAndGlyphs">ε</text>
<text x="463.2" y="1322.7" font-size="31.0" text-anchor="start" textLength="121.0" lengthAdjust="spacingAndGlyphs">(MeV/fm</text>
<text x="585.4" y="1311.7" font-size="21.6" text-anchor="start" textLength="10.6" lengthAdjust="spacingAndGlyphs">3</text>
<text x="598.0" y="1322.7" font-size="31.0" text-anchor="start" textLength="10.3" lengthAdjust="spacingAndGlyphs">)</text>
<g transform="translate(42.5 1064.4) rotate(-90)">
<text x="-0.5" y="0.0" font-size="31.0" text-anchor="start" font-style="italic" textLength="21.5" lengthAdjust="spacingAndGlyphs">P</text>
<text x="23.7" y="0.0" font-size="31.0" text-anchor="start" textLength="121.0" lengthAdjust="spacingAndGlyphs">(MeV/fm</text>
<text x="145.9" y="-11.0" font-size="21.6" text-anchor="start" textLength="10.6" lengthAdjust="spacingAndGlyphs">3</text>
<text x="158.5" y="0.0" font-size="31.0" text-anchor="start" textLength="10.3" lengthAdjust="spacingAndGlyphs">)</text>
</g>
<text x="1446.3" y="647.8" font-size="31.0" text-anchor="start" font-style="italic" textLength="21.5" lengthAdjust="spacingAndGlyphs">R</text>
<text x="1474.0" y="647.8" font-size="31.0" text-anchor="start" textLength="60.6" lengthAdjust="spacingAndGlyphs">(km)</text>
<g transform="translate(1016.7 362.3) rotate(-90)">
<text x="-0.3" y="0.0" font-size="31.0" text-anchor="start" font-style="italic" textLength="27.0" lengthAdjust="spacingAndGlyphs">M</text>
<text x="30.8" y="0.0" font-size="31.0" text-anchor="start" textLength="10.3" lengthAdjust="spacingAndGlyphs">(</text>
<text x="44.0" y="0.0" font-size="31.0" text-anchor="start" textLength="26.8" lengthAdjust="spacingAndGlyphs">M</text>
<text x="83.9" y="7.8" font-size="22.3" text-anchor="middle" font-family="DejaVu Sans, sans-serif" stroke-width="0.3">⊙</text>
<text x="92.6" y="0.0" font-size="31.0" text-anchor="start" textLength="10.3" lengthAdjust="spacingAndGlyphs">)</text>
</g>
<text x="1440.4" y="1324.4" font-size="31.0" text-anchor="start" font-style="italic" textLength="21.5" lengthAdjust="spacingAndGlyphs">R</text>
<text x="1468.1" y="1324.4" font-size="31.0" text-anchor="start" textLength="60.6" lengthAdjust="spacingAndGlyphs">(km)</text>
<g transform="translate(1010.8 1038.9) rotate(-90)">
<text x="-0.3" y="0.0" font-size="31.0" text-anchor="start" font-style="italic" textLength="27.0" lengthAdjust="spacingAndGlyphs">M</text>
<text x="30.8" y="0.0" font-size="31.0" text-anchor="start" textLength="10.3" lengthAdjust="spacingAndGlyphs">(</text>
<text x="44.0" y="0.0" font-size="31.0" text-anchor="start" textLength="26.8" lengthAdjust="spacingAndGlyphs">M</text>
<text x="83.9" y="7.8" font-size="22.3" text-anchor="middle" font-family="DejaVu Sans, sans-serif" stroke-width="0.3">⊙</text>
<text x="92.6" y="0.0" font-size="31.0" text-anchor="start" textLength="10.3" lengthAdjust="spacingAndGlyphs">)</text>
</g>
<path d="M145.95 74.85 L206.15 74.85 L206.15 54.05 L145.95 54.05 Z" fill="none" stroke="#999999" stroke-width="3.9" stroke-dasharray="13.7 5.2"/>
<path d="M145.95 116.15 L206.15 116.15 L206.15 95.35 L145.95 95.35 Z" fill="none" stroke="#20bcbc" stroke-width="3.9" stroke-dasharray="13.7 5.2"/>
<path d="M145.95 159.25 L206.15 159.25 L206.15 138.45 L145.95 138.45 Z" fill="none" stroke="#a3459d" stroke-width="3.9" stroke-dasharray="13.7 5.2"/>
<rect x="145.95" y="182.15" width="60.20" height="21.60" fill="#fdddd7"/>
<text x="229.2" y="75.0" font-size="31.0" text-anchor="start" textLength="65.6" lengthAdjust="spacingAndGlyphs">Prior</text>
<text x="229.6" y="116.8" font-size="31.0" text-anchor="start" textLength="109.2" lengthAdjust="spacingAndGlyphs">Stability</text>
<text x="229.0" y="160.4" font-size="39.0" text-anchor="start">+</text>
<text x="252.4" y="157.8" font-size="31.0" text-anchor="start" textLength="53.8" lengthAdjust="spacingAndGlyphs">2.14</text>
<text x="309.2" y="157.8" font-size="31.0" text-anchor="start" textLength="27.0" lengthAdjust="spacingAndGlyphs">M</text>
<text x="349.4" y="164.5" font-size="22.3" text-anchor="middle" font-family="DejaVu Sans, sans-serif" stroke-width="0.3">⊙</text>
<text x="372.2" y="157.8" font-size="31.0" text-anchor="start" textLength="78.6" lengthAdjust="spacingAndGlyphs">pulsar</text>
<text x="229.0" y="204.8" font-size="39.0" text-anchor="start">+</text>
<text x="252.4" y="202.2" font-size="31.0" text-anchor="start" textLength="53.8" lengthAdjust="spacingAndGlyphs">2.14</text>
<text x="309.2" y="202.2" font-size="31.0" text-anchor="start" textLength="27.0" lengthAdjust="spacingAndGlyphs">M</text>
<text x="349.4" y="208.9" font-size="22.3" text-anchor="middle" font-family="DejaVu Sans, sans-serif" stroke-width="0.3">⊙</text>
<text x="372.2" y="202.2" font-size="31.0" text-anchor="start" textLength="78.6" lengthAdjust="spacingAndGlyphs">pulsar</text>
<text x="455.8" y="204.8" font-size="39.0" text-anchor="start">+</text>
<text x="486.6" y="202.2" font-size="31.0" text-anchor="start" font-style="italic" textLength="100.2" lengthAdjust="spacingAndGlyphs">NICER</text>
<path d="M139.90 751.85 L200.10 751.85 L200.10 731.05 L139.90 731.05 Z" fill="none" stroke="#4457a8" stroke-width="3.9" stroke-dasharray="13.7 5.2"/>
<path d="M139.90 792.95 L200.10 792.95 L200.10 772.15 L139.90 772.15 Z" fill="none" stroke="#28864c" stroke-width="3.9" stroke-dasharray="13.7 5.2"/>
<rect x="139.90" y="812.75" width="60.20" height="21.60" fill="#fdddd7"/>
<text x="223.6" y="751.9" font-size="31.0" text-anchor="start" textLength="96.6" lengthAdjust="spacingAndGlyphs">Normal</text>
<text x="224.0" y="793.8" font-size="31.0" text-anchor="start" textLength="58.2" lengthAdjust="spacingAndGlyphs">CFL</text>
<text x="224.0" y="834.6" font-size="31.0" text-anchor="start" textLength="83.4" lengthAdjust="spacingAndGlyphs">CFLm</text>
</svg>
</body></html>
